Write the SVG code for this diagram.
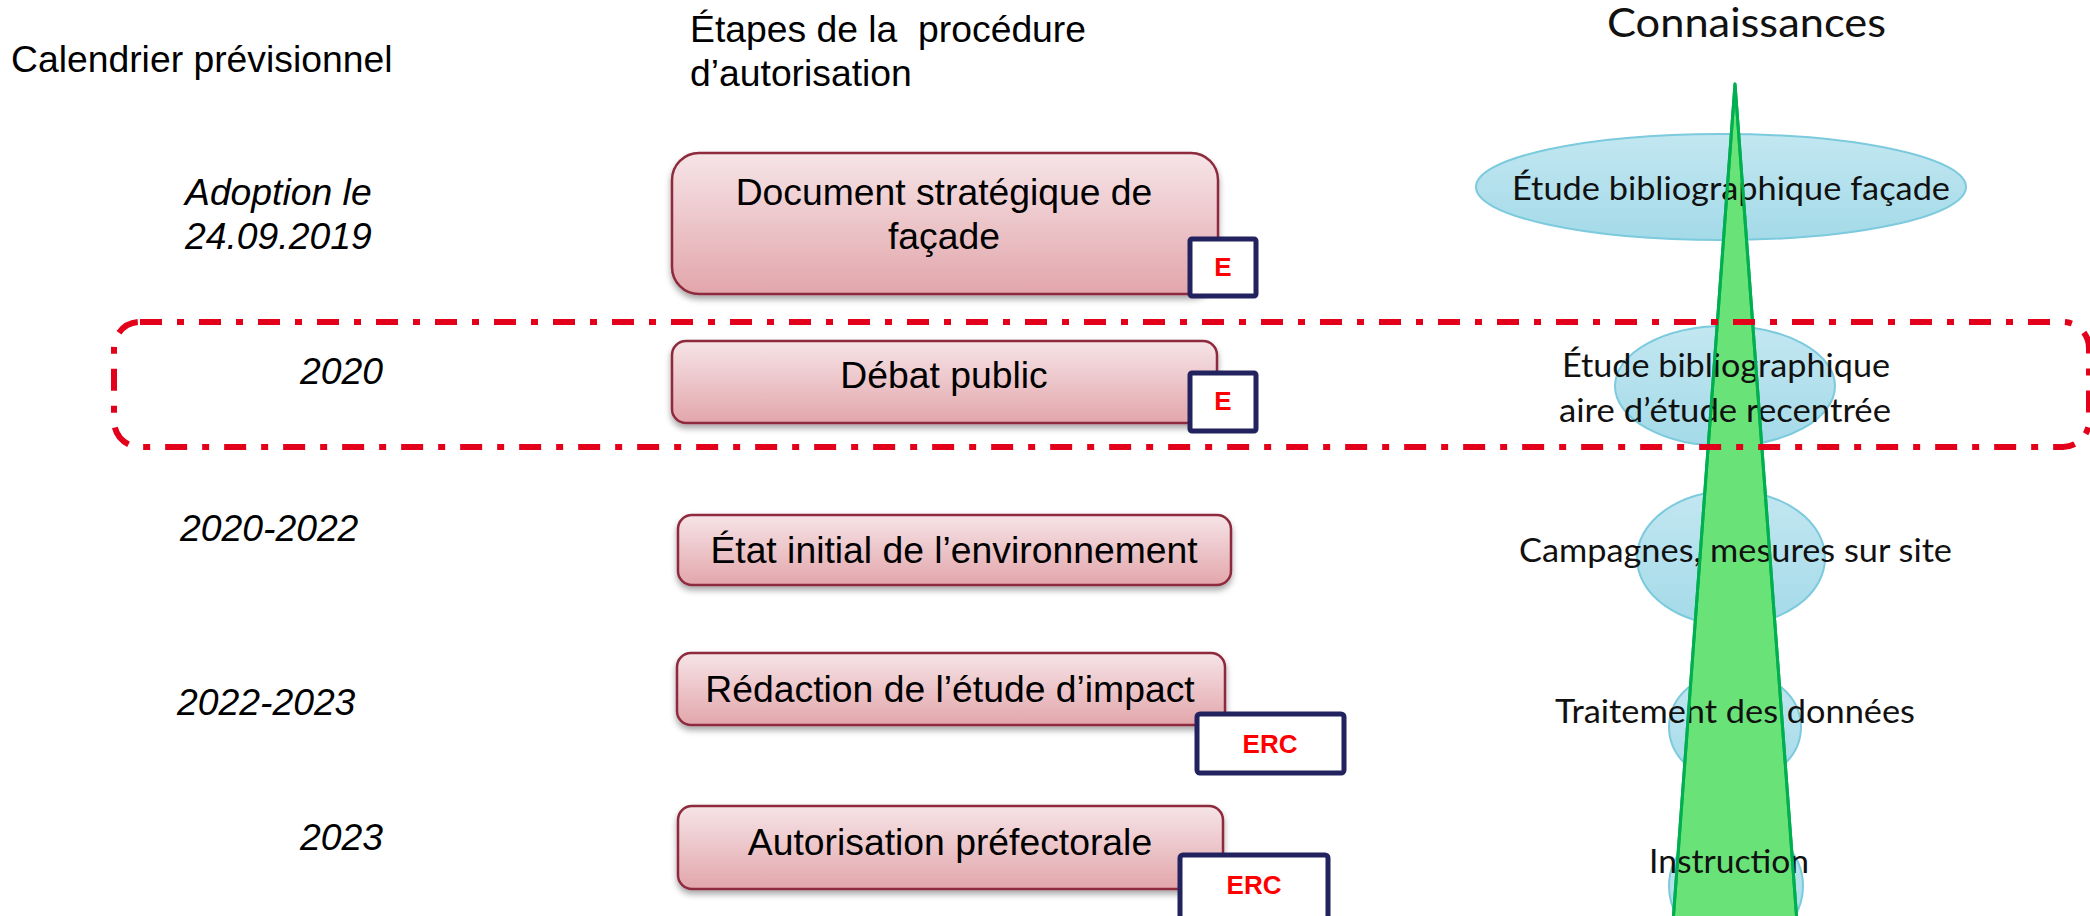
<svg xmlns="http://www.w3.org/2000/svg" width="2090" height="916" viewBox="0 0 2090 916">
<defs>
<linearGradient id="pink" x1="0" y1="0" x2="0" y2="1">
<stop offset="0" stop-color="#f6e4e7"/>
<stop offset="1" stop-color="#e2a6ab"/>
</linearGradient>
<linearGradient id="blue" x1="0" y1="0" x2="0" y2="1">
<stop offset="0" stop-color="#c2e7f1"/>
<stop offset="1" stop-color="#a4dae8"/>
</linearGradient>
<filter id="shadow" x="-5%" y="-10%" width="110%" height="130%">
<feDropShadow dx="0" dy="4" stdDeviation="3" flood-color="#000" flood-opacity="0.35"/>
</filter>
</defs>
<style>
.arial{font-family:"Liberation Sans",Arial,sans-serif;font-size:37.3px;fill:#000}
.it{font-style:italic}
.cal{font-family:Lato,"Open Sans",sans-serif;font-size:32px;fill:#111}
.step{fill:url(#pink);stroke:#8e2a3c;stroke-width:2.5;filter:url(#shadow)}
.tag{fill:#fff;stroke:#22225e;stroke-width:5}
.tagt{font-family:"Liberation Sans",Arial,sans-serif;font-weight:bold;font-size:26px;fill:#ff0000;text-anchor:middle}
.ell{fill:url(#blue);stroke:#7ccadd;stroke-width:2}
.pre{white-space:pre}
</style>

<g id="headers">
<text class="arial" x="11" y="72">Calendrier prévisionnel</text>
<text class="arial pre" x="690" y="42">Étapes de la  procédure</text>
<text class="arial" x="690" y="86">d’autorisation</text>
<text class="cal" x="1607" y="37" style="font-size:41px" textLength="279" lengthAdjust="spacingAndGlyphs">Connaissances</text>
</g>

<g id="calendar">
<text class="arial it" x="185" y="205">Adoption le</text>
<text class="arial it" x="185" y="249">24.09.2019</text>
<text class="arial it" x="300" y="384">2020</text>
<text class="arial it" x="180" y="541">2020-2022</text>
<text class="arial it" x="177" y="715">2022-2023</text>
<text class="arial it" x="300" y="850">2023</text>
</g>

<g id="knowledge-ellipses">
<ellipse id="k1" class="ell" cx="1721" cy="187" rx="245" ry="53"/>
<ellipse id="k2" class="ell" cx="1725" cy="386" rx="110" ry="60"/>
<ellipse id="k3" class="ell" cx="1731" cy="558" rx="94" ry="67"/>
<ellipse id="k4" class="ell" cx="1735" cy="727" rx="66" ry="56"/>
<ellipse id="k5" class="ell" cx="1736" cy="886" rx="67" ry="62"/>
</g>

<g id="arrow-knowledge">
<polygon points="1735,84 1798.3,940 1671.7,940" fill="#69e277" stroke="#00b050" stroke-width="3" stroke-linejoin="round"/>
</g>

<g id="knowledge-labels">
<text class="cal" x="1512" y="200" textLength="438" lengthAdjust="spacingAndGlyphs">Étude bibliographique façade</text>
<text class="cal" x="1562" y="377" textLength="328" lengthAdjust="spacingAndGlyphs">Étude bibliographique</text>
<text class="cal" x="1559" y="422" textLength="332" lengthAdjust="spacingAndGlyphs">aire d’étude recentrée</text>
<text class="cal" x="1519" y="562" textLength="433" lengthAdjust="spacingAndGlyphs">Campagnes, mesures sur site</text>
<text class="cal" x="1555" y="723" textLength="360" lengthAdjust="spacingAndGlyphs">Traitement des données</text>
<text class="cal" x="1649" y="873" textLength="160" lengthAdjust="spacingAndGlyphs">Instruction</text>
</g>

<g id="arrow-outline">
<polygon points="1735,84 1798.3,940 1671.7,940" fill="none" stroke="#00b050" stroke-width="3" stroke-linejoin="round"/>
</g>

<g id="step1">
<rect class="step" x="672" y="153" width="546" height="141" rx="27"/>
<text class="arial" x="944" y="205" text-anchor="middle">Document stratégique de</text>
<text class="arial" x="944" y="249" text-anchor="middle">façade</text>
<rect class="tag" x="1190" y="239" width="66" height="57" rx="2"/>
<text class="tagt" x="1223" y="276">E</text>
</g>

<g id="step2">
<rect class="step" x="672" y="341" width="545" height="82" rx="14"/>
<text class="arial" x="944" y="388" text-anchor="middle">Débat public</text>
<rect class="tag" x="1190" y="373" width="66" height="58" rx="2"/>
<text class="tagt" x="1223" y="410">E</text>
</g>

<g id="step3">
<rect class="step" x="678" y="515" width="553" height="70" rx="14"/>
<text class="arial" x="954" y="563" text-anchor="middle">État initial de l’environnement</text>
</g>

<g id="step4">
<rect class="step" x="677" y="653" width="548" height="72" rx="14"/>
<text class="arial" x="950" y="702" text-anchor="middle">Rédaction de l’étude d’impact</text>
<rect class="tag" x="1197" y="714" width="147" height="59" rx="3"/>
<text class="tagt" x="1270" y="753">ERC</text>
</g>

<g id="step5">
<rect class="step" x="678" y="806" width="545" height="83" rx="14"/>
<text class="arial" x="950" y="855" text-anchor="middle">Autorisation préfectorale</text>
<rect class="tag" x="1180" y="855" width="148" height="66" rx="3"/>
<text class="tagt" x="1254" y="894">ERC</text>
</g>

<g id="focus-2020">
<rect x="114" y="322" width="1975" height="125" rx="26" fill="none" stroke="#e2001a" stroke-width="6" stroke-dasharray="22 15 7 15"/>
</g>
</svg>
